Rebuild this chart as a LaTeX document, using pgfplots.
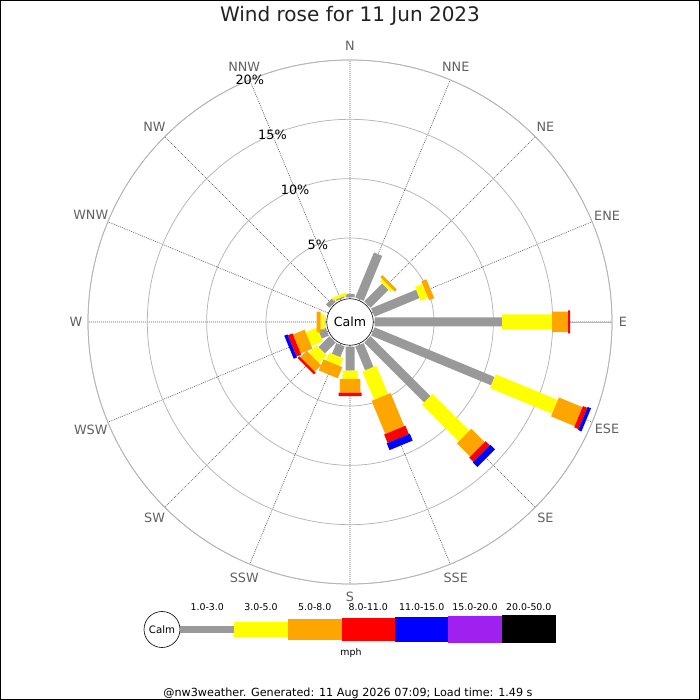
\documentclass[border=0pt]{standalone}
\usepackage{pgfplots}
\usepackage{pgfplotstable}
\pgfplotsset{compat=1.18}
\usepgfplotslibrary{polar}
\usepackage{fontspec}
\setmainfont{DejaVu Sans}
\definecolor{wgray}{RGB}{153,153,153}
\definecolor{wyellow}{RGB}{255,255,0}
\definecolor{worange}{RGB}{255,165,0}
\definecolor{wred}{RGB}{255,0,0}
\definecolor{wblue}{RGB}{0,0,255}
\definecolor{wpurple}{RGB}{160,32,240}
\definecolor{ringgray}{RGB}{180,180,180}
\definecolor{labgray}{RGB}{96,96,96}
\definecolor{titlecol}{RGB}{34,34,34}

% Each bar segment: compass direction d (degrees) and radial bounds p (percent).
% Rows with nan separate the bars.
\pgfplotstableread{
d p
0 0
0 0.28
nan nan
22.5 0
22.5 4.10
nan nan
45 0
45 2.13
nan nan
67.5 0
67.5 4.11
nan nan
90 0
90 10.73
nan nan
112.5 0
112.5 10.95
nan nan
135 0
135 7.13
nan nan
157.5 0
157.5 2.18
nan nan
180 0
180 2.02
nan nan
202.5 0
202.5 0.98
nan nan
225 0
225 1.29
nan nan
247.5 0
247.5 0.66
nan nan
270 0
270 0.05
nan nan
315 0
315 0.40
nan nan
337.5 0
337.5 0.12
}\grayT

\pgfplotstableread{
d p
45 2.13
45 2.39
nan nan
67.5 4.11
67.5 4.79
nan nan
90 10.73
90 14.95
nan nan
112.5 10.95
112.5 16.62
nan nan
135 7.13
135 11.51
nan nan
157.5 2.18
157.5 4.76
nan nan
180 2.02
180 2.72
nan nan
202.5 0.98
202.5 1.68
nan nan
225 1.29
225 2.22
nan nan
247.5 0.66
247.5 1.71
nan nan
270 0.05
270 0.39
nan nan
337.5 0.12
337.5 0.36
}\yellowT

\pgfplotstableread{
d p
45 2.39
45 2.64
nan nan
67.5 4.79
67.5 5.24
nan nan
90 14.95
90 16.30
nan nan
112.5 16.62
112.5 18.77
nan nan
135 11.51
135 13.10
nan nan
157.5 4.76
157.5 7.78
nan nan
180 2.72
180 3.88
nan nan
202.5 1.68
202.5 2.69
nan nan
225 2.22
225 2.98
nan nan
247.5 1.71
247.5 2.77
nan nan
270 0.39
270 0.73
}\orangeT

\pgfplotstableread{
d p
90 16.30
90 16.47
nan nan
112.5 18.77
112.5 19.16
nan nan
135 13.10
135 13.60
nan nan
157.5 7.78
157.5 8.54
nan nan
180 3.88
180 4.16
nan nan
225 2.98
225 3.19
nan nan
247.5 2.77
247.5 3.19
}\redT

\pgfplotstableread{
d p
112.5 19.16
112.5 19.47
nan nan
135 13.60
135 14.15
nan nan
157.5 8.54
157.5 9.17
nan nan
247.5 3.19
247.5 3.48
}\blueT

\newcommand{\off}{2.083}

\begin{document}
\begin{tikzpicture}
\begin{polaraxis}[
  name=rose,
  scale only axis, width=524pt, height=524pt,
  xmin=0, xmax=360, ymin=0, ymax=22.083,
  xtick={0,22.5,...,337.5},
  ytick={7.083,12.083,17.083,22.083},
  xticklabels={}, yticklabels={},
  major tick length=0pt,
  xmajorgrids, ymajorgrids,
  major x grid style={draw=black!65, line width=0.6pt, dash pattern=on 1pt off 1pt},
  major y grid style={draw=ringgray, line width=0.75pt},
  axis line style={draw=ringgray, line width=0.75pt},
  clip=false,
  unbounded coords=jump,
  every axis plot/.append style={no markers, line cap=butt},
]
\addplot[wgray, line width=9pt] table[x expr={90-\thisrow{d}}, y expr={\thisrow{p}+\off}] {\grayT};
\addplot[wyellow, line width=15pt] table[x expr={90-\thisrow{d}}, y expr={\thisrow{p}+\off}] {\yellowT};
\addplot[worange, line width=20.5pt] table[x expr={90-\thisrow{d}}, y expr={\thisrow{p}+\off}] {\orangeT};
\addplot[wred, line width=23pt] table[x expr={90-\thisrow{d}}, y expr={\thisrow{p}+\off}] {\redT};
\addplot[wblue, line width=25pt] table[x expr={90-\thisrow{d}}, y expr={\thisrow{p}+\off}] {\blueT};

\coordinate (C) at (axis cs:0,0);
\draw[black, fill=white, line width=0.6pt] (axis cs:0,0) circle[radius=23.3pt];
\node[font=\fontsize{12.6}{13}\selectfont] at (axis cs:0,0) {Calm};

\begin{scope}[font=\fontsize{12.8}{13}\selectfont]
\node[black] at (axis cs:112.5,7.083) {5\%};
\node[black] at (axis cs:112.5,12.083) {10\%};
\node[black] at (axis cs:112.5,17.083) {15\%};
\node[labgray] at (axis cs:90,23.27) {N};
\node[labgray] at (axis cs:67.5,23.3) {NNE};
\node[labgray] at (axis cs:45,23.3) {NE};
\node[labgray] at (axis cs:22.5,23.45) {ENE};
\node[labgray] at (axis cs:0,23.0) {E};
\node[labgray] at (axis cs:-22.5,23.45) {ESE};
\node[labgray] at (axis cs:-45,23.3) {SE};
\node[labgray] at (axis cs:-67.5,23.3) {SSE};
\node[labgray] at (axis cs:-90,23.15) {S};
\node[labgray] at (axis cs:-112.5,23.3) {SSW};
\node[labgray] at (axis cs:-135,23.3) {SW};
\node[labgray] at (axis cs:-157.5,23.65) {WSW};
\node[labgray] at (axis cs:180,23.1) {W};
\node[labgray] at (axis cs:157.5,23.65) {WNW};
\node[labgray] at (axis cs:135,23.3) {NW};
\node[labgray] at (axis cs:112.5,23.3) {NNW};
\node[black] at (axis cs:112.5,22.083) {20\%};
\end{scope}
\end{polaraxis}

\begin{scope}[shift={(C)}]
  % title
  \node[titlecol, font=\fontsize{20}{21}\selectfont] at (0pt,306pt) {Wind rose for 11 Jun 2023};
  % legend
  \draw[black, line width=0.6pt, fill=white] (-188pt,-307.5pt) circle[radius=18pt];
  \node[font=\fontsize{10.2}{11}\selectfont] at (-188pt,-307.5pt) {Calm};
  \fill[wgray]   (-170pt,-311.2pt) rectangle (-115.7pt,-303.6pt);
  \fill[wyellow] (-115.7pt,-314.8pt) rectangle (-62.3pt,-299.8pt);
  \fill[worange] (-62.3pt,-317.5pt) rectangle (-8.3pt,-297.2pt);
  \fill[wred]    (-8.3pt,-318.8pt) rectangle (45pt,-295.8pt);
  \fill[wblue]   (45pt,-319.8pt) rectangle (98.3pt,-294.8pt);
  \fill[wpurple] (98.3pt,-320.8pt) rectangle (151.7pt,-293.8pt);
  \fill[black]   (151.7pt,-321.4pt) rectangle (206pt,-293.1pt);
  \begin{scope}[font=\fontsize{9.4}{10}\selectfont]
    \node at (-142.8pt,-285pt) {1.0-3.0};
    \node at (-89pt,-285pt) {3.0-5.0};
    \node at (-35.3pt,-285pt) {5.0-8.0};
    \node at (18.3pt,-285pt) {8.0-11.0};
    \node at (71.7pt,-285pt) {11.0-15.0};
    \node at (125pt,-285pt) {15.0-20.0};
    \node at (178.8pt,-285pt) {20.0-50.0};
    \node at (1pt,-331pt) {mph};
  \end{scope}
  \node[font=\fontsize{11.2}{12}\selectfont] at (-2pt,-371pt) {@nw3weather. Generated: 11 Aug 2026 07:09; Load time: 1.49 s};
  % frame
  \draw[black, line width=1pt] (-349.5pt,-377.5pt) rectangle (349.5pt,321.5pt);
\end{scope}
\pgfresetboundingbox
\path[use as bounding box] ([shift={(-350pt,-378pt)}]C) rectangle ([shift={(350pt,322pt)}]C);
\end{tikzpicture}
\end{document}
